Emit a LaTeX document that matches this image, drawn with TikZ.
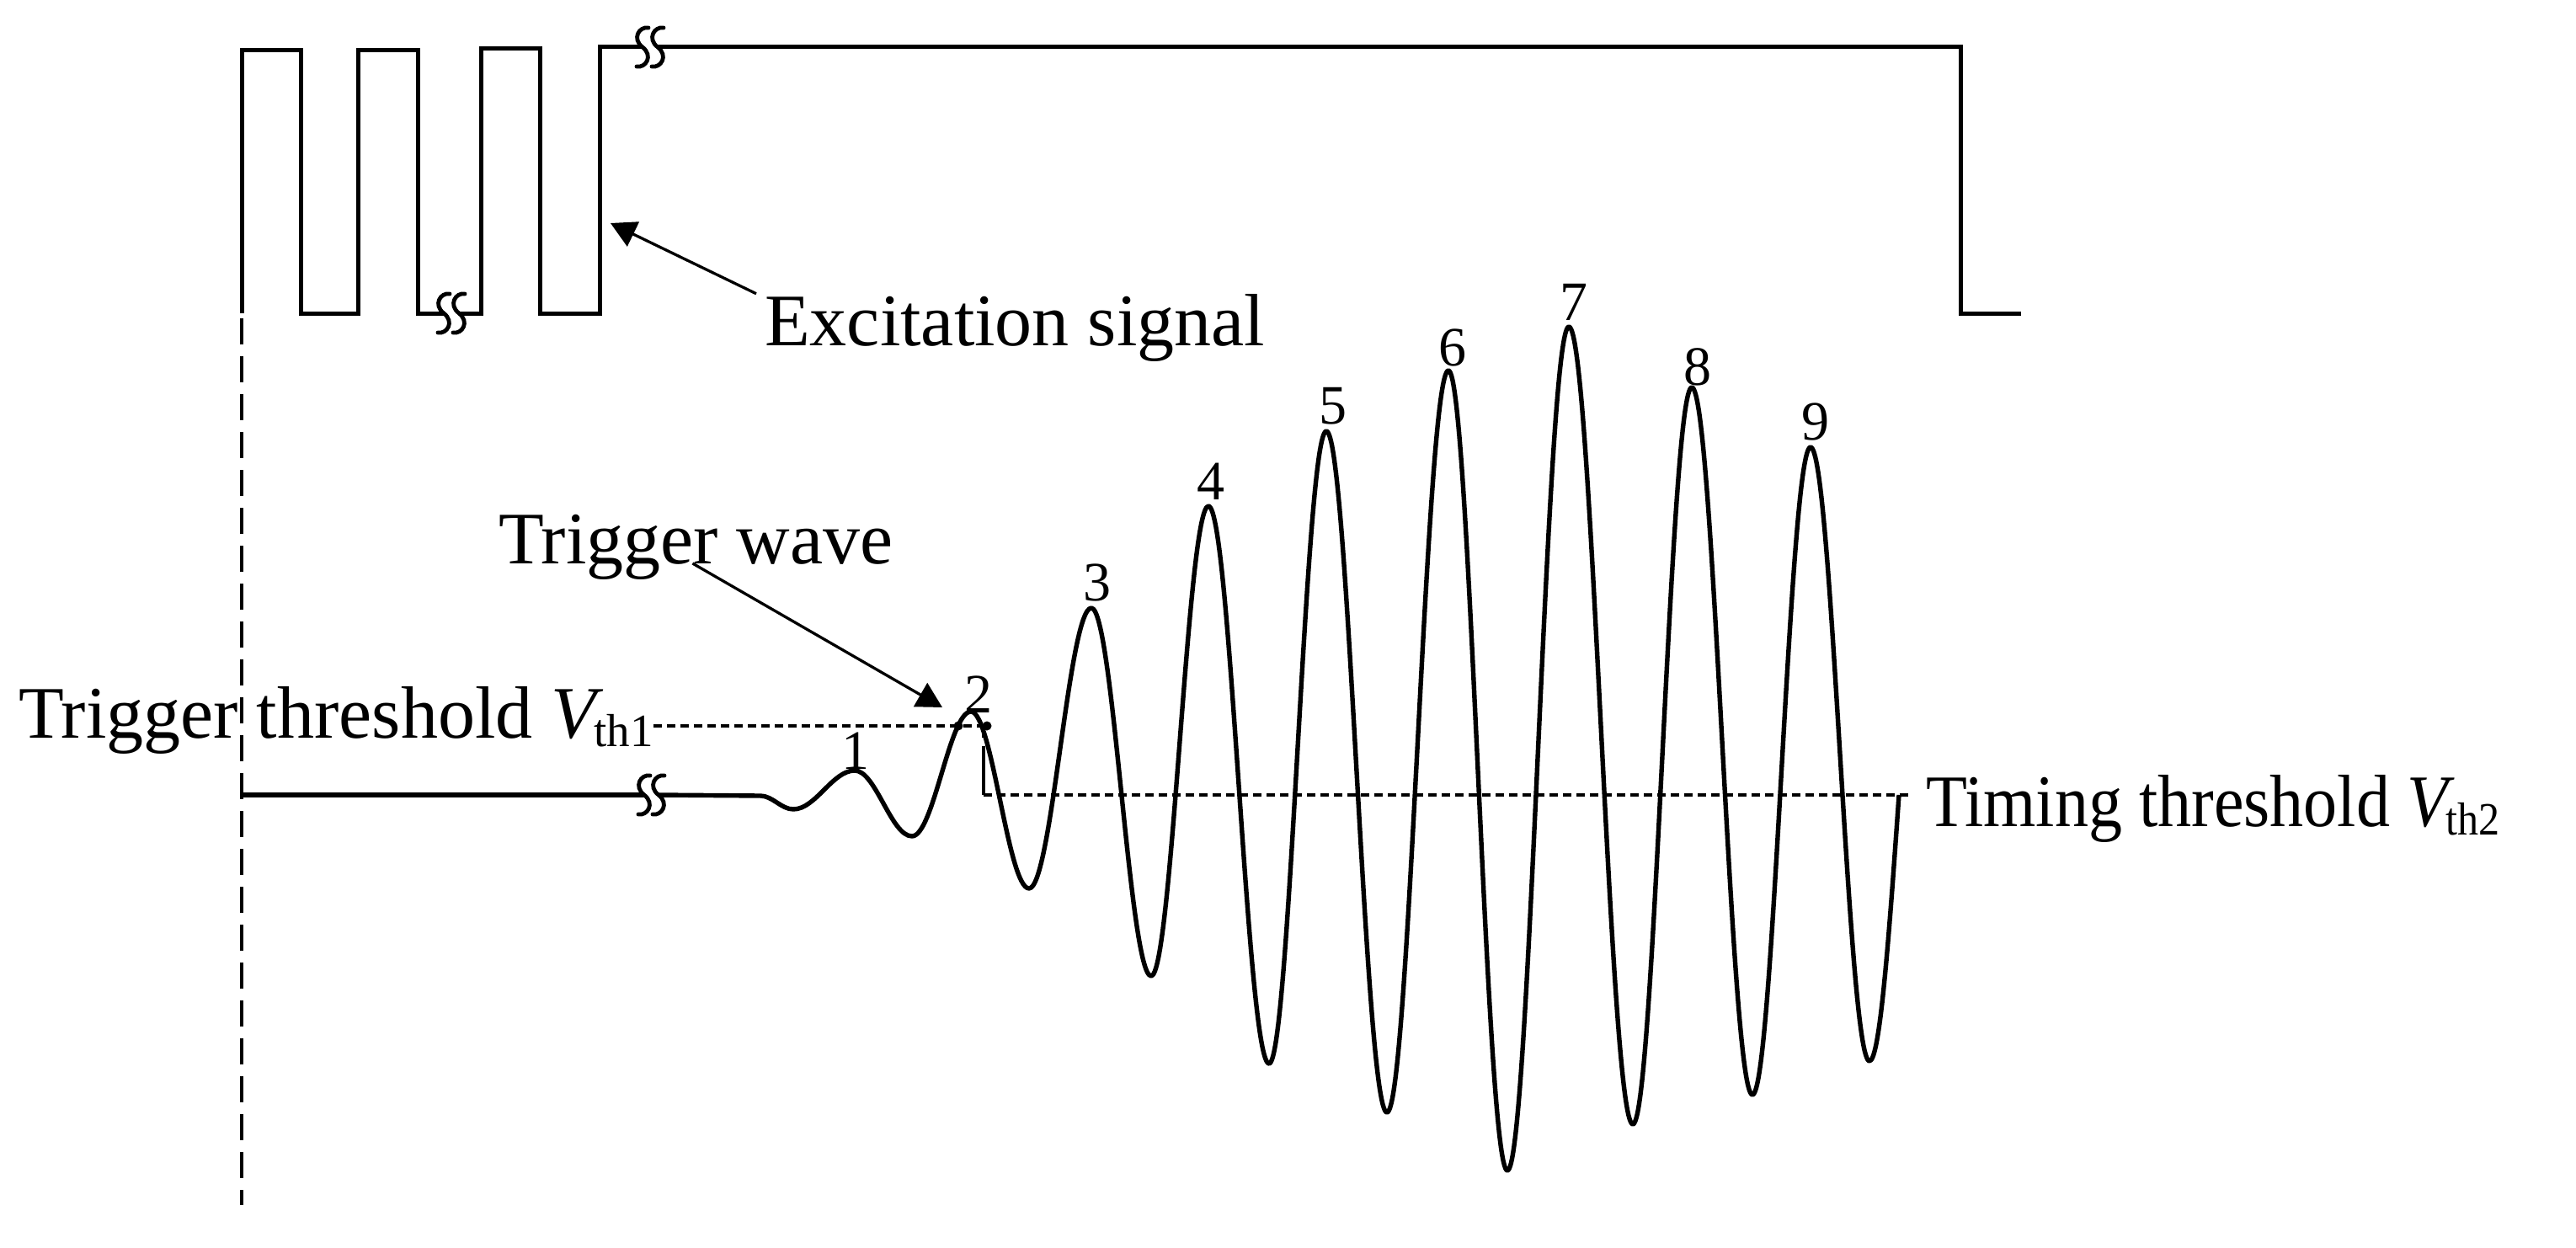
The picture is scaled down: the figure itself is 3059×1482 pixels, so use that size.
\documentclass[tikz,border=0pt]{standalone}
\usepackage{fontspec}
\setmainfont{Liberation Serif}
\usetikzlibrary{arrows.meta}
\newcommand\vsub[1]{\raisebox{-10pt}{\fontsize{55}{60}\selectfont #1}}
\begin{document}
\begin{tikzpicture}[x=1pt,y=-1pt,
  sig/.style={line width=5pt, line join=miter},
  wave/.style={line width=5.4pt, line join=round},
  brkline/.style={line width=4.8pt, line cap=round},
  callout/.style={line width=3.3pt, -{Triangle[length=30pt,width=32pt]}},
  thr/.style={line width=3.2pt, dash pattern=on 10pt off 6pt},
  guide/.style={line width=4pt, dash pattern=on 31pt off 14pt},
  lbl/.style={inner sep=0pt, font=\fontsize{88}{100}\selectfont},
  num/.style={inner sep=0pt, anchor=south, font=\fontsize{66}{72}\selectfont},
  brk/.pic={\draw[brkline] (7,-23) .. controls (-4,-25) and (-13,-10) .. (0,0) .. controls (13,10) and (4,25) .. (-7,23);}
]
\useasboundingbox (0,0) rectangle (3059,1482);

% ---------- excitation square wave ----------
\draw[sig] (287,372) -- (287,60) -- (357,60) -- (357,372) -- (425,372) -- (425,60)
  -- (496,60) -- (496,372) -- (527,372);
\draw[sig] (545,372) -- (571,372) -- (571,58) -- (641,58) -- (641,372) -- (712,372)
  -- (712,56) -- (763,56);
\draw[sig] (781,56) -- (2328,56) -- (2328,372) -- (2400,372);
\pic at (527,372) {brk};
\pic at (545,372) {brk};
\pic at (763,56) {brk};
\pic at (781,56) {brk};

% ---------- left guide ----------
\draw[guide] (287,378) -- (287,1431);

% ---------- extrema of the received wave ----------
\coordinate (w0) at (903,945);
\coordinate (dip) at (942,961);
\coordinate (pk1) at (1015,915);
\coordinate (tr1) at (1083,993);
\coordinate (pk2) at (1153,845);
\coordinate (tr2) at (1222,1055);
\coordinate (pk3) at (1296,722);
\coordinate (tr3) at (1367,1159);
\coordinate (pk4) at (1435,601);
\coordinate (tr4) at (1507,1263);
\coordinate (pk5) at (1575,512);
\coordinate (tr5) at (1647,1321);
\coordinate (pk6) at (1720,440);
\coordinate (tr6) at (1790,1390);
\coordinate (pk7) at (1863,388);
\coordinate (tr7) at (1939,1335);
\coordinate (pk8) at (2009,460);
\coordinate (tr8) at (2081,1300);
\coordinate (pk9) at (2150,531);
\coordinate (tr9) at (2220,1260);
\coordinate (wend) at (2255,944);

% ---------- received wave ----------
\draw[wave] (287,944) -- (765,944);
\pic at (765,944) {brk};
\pic at (782,944) {brk};
\draw[wave] (782,944) -- (w0)
  .. controls (917.2,945) and (927.8,961) .. (dip)
  .. controls (968.6,961) and (988.4,915) .. (pk1)
  .. controls (1039.8,915) and (1058.2,993) .. (tr1)
  .. controls (1108.5,993) and (1127.5,845) .. (pk2)
  .. controls (1178.1,845) and (1196.9,1055) .. (tr2)
  .. controls (1248.9,1055) and (1269.1,722) .. (pk3)
  .. controls (1321.8,722) and (1341.2,1159) .. (tr3)
  .. controls (1391.8,1159) and (1410.2,601) .. (pk4)
  .. controls (1461.2,601) and (1480.8,1263) .. (tr4)
  .. controls (1531.8,1263) and (1550.2,512) .. (pk5)
  .. controls (1601.2,512) and (1620.8,1321) .. (tr5)
  .. controls (1673.6,1321) and (1693.4,440) .. (pk6)
  .. controls (1745.5,440) and (1764.5,1390) .. (tr6)
  .. controls (1816.6,1390) and (1836.4,388) .. (pk7)
  .. controls (1890.7,388) and (1911.3,1335) .. (tr7)
  .. controls (1964.5,1335) and (1983.5,460) .. (pk8)
  .. controls (2035.2,460) and (2054.8,1300) .. (tr8)
  .. controls (2106.1,1300) and (2124.9,531) .. (pk9)
  .. controls (2175.5,531) and (2194.5,1260) .. (tr9)
  .. controls (2232.7,1260) and (2243.9,1102) .. (wend);

% ---------- peak numbers ----------
\node[num, xshift=1pt, yshift=1pt] (n1) at (pk1) {1};
\node[num, xshift=9pt, yshift=-2pt] (n2) at (pk2) {2};
\node[num, xshift=7pt, yshift=8pt] (n3) at (pk3) {3};
\node[num, xshift=3pt, yshift=7pt] (n4) at (pk4) {4};
\node[num, xshift=8pt, yshift=8pt] (n5) at (pk5) {5};
\node[num, xshift=5pt, yshift=5pt] (n6) at (pk6) {6};
\node[num, xshift=6pt, yshift=7pt] (n7) at (pk7) {7};
\node[num, xshift=7pt, yshift=2pt] (n8) at (pk8) {8};
\node[num, xshift=6pt, yshift=8pt] (n9) at (pk9) {9};

% ---------- labels ----------
\node[lbl, anchor=base west] (exc) at (908,410) {Excitation signal};
\node[lbl, anchor=base west] (tw) at (592,669) {Trigger wave};
\node[lbl, anchor=base west] (trth) at (22,876) {Trigger threshold \textit{V}\kern-11pt\vsub{th1}};
\node[lbl, anchor=base west] (tmth) at (2287,981) {\scalebox{0.91}[1]{Timing threshold \textit{V}\kern-11pt\vsub{th2}}};

% ---------- thresholds ----------
\coordinate (d1) at (1138,862);
\coordinate (d2) at (1172,862);
\coordinate (vt) at (1168,862);
\coordinate (vb) at (1168,944);
\coordinate (te) at (2270,944);
\draw[thr] (trth.east |- d1) -- (vt);
\draw[line width=3.2pt, dash pattern=on 14pt off 10pt on 80pt off 0pt] (vt) -- (vb);
\draw[thr] (vb) -- (te);
\fill (d1) circle (5.5pt);
\fill (d2) circle (5.5pt);

% ---------- callout arrows ----------
\coordinate (exctip) at (725,265);
\coordinate (twtip) at (1119,840);
\draw[callout] ([xshift=-10pt]exc.north west) -- (exctip);
\draw[callout] ([xshift=-4pt]tw.base) -- (twtip);
\end{tikzpicture}
\end{document}
